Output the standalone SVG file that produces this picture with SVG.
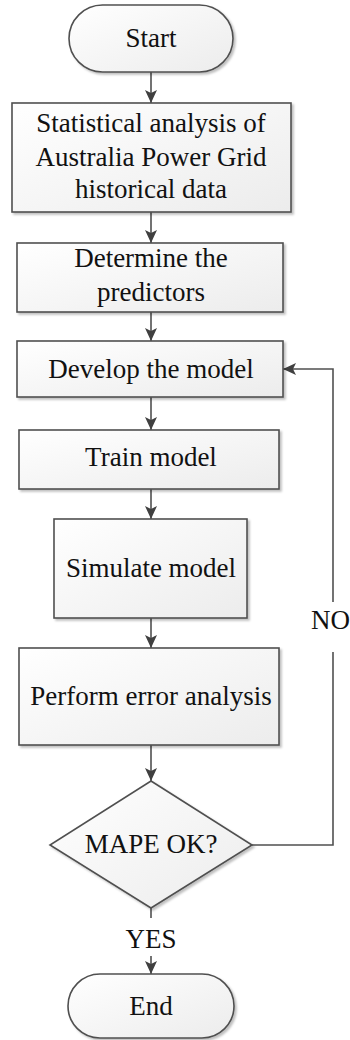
<svg xmlns="http://www.w3.org/2000/svg" width="350" height="1040" viewBox="0 0 350 1040">
<style>
.box{fill:url(#g);stroke:#505050;stroke-width:1.6;filter:url(#sh)}
.t{font-family:"Liberation Serif","Times New Roman",serif;font-size:27px;fill:#111111;text-anchor:middle}
.c{fill:none;stroke:#505050;stroke-width:1.6}
</style>
<defs>
<linearGradient id="g" x1="0" y1="0" x2="1" y2="1">
<stop offset="0" stop-color="#ffffff"/>
<stop offset="1" stop-color="#ececec"/>
</linearGradient>
<filter id="sh" x="-10%" y="-10%" width="130%" height="130%">
<feDropShadow dx="2" dy="2" stdDeviation="1.2" flood-color="#000" flood-opacity="0.25"/>
</filter>
<marker id="ah" markerUnits="userSpaceOnUse" markerWidth="14" markerHeight="14" refX="13" refY="7" orient="auto">
<path d="M0,1 L13,7 L0,13 L3,7 Z" fill="#404040"/>
</marker>
</defs>
<g id="connectors">
<line class="c" x1="151" y1="72" x2="151" y2="103" marker-end="url(#ah)"/>
<line class="c" x1="151" y1="212" x2="151" y2="243" marker-end="url(#ah)"/>
<line class="c" x1="151" y1="312" x2="151" y2="341" marker-end="url(#ah)"/>
<line class="c" x1="151" y1="397" x2="151" y2="430" marker-end="url(#ah)"/>
<line class="c" x1="151" y1="489" x2="151" y2="519" marker-end="url(#ah)"/>
<line class="c" x1="151" y1="618" x2="151" y2="648" marker-end="url(#ah)"/>
<line class="c" x1="151" y1="745" x2="151" y2="781" marker-end="url(#ah)"/>
<line class="c" x1="151" y1="908" x2="151" y2="918"/>
<line class="c" x1="151" y1="956" x2="151" y2="974" marker-end="url(#ah)"/>
<polyline class="c" points="252,845 333,845 333,652"/>
<polyline class="c" points="333,602 333,369 283,369" marker-end="url(#ah)"/>
<text class="t" x="151" y="948">YES</text>
<text class="t" x="311" y="629" style="text-anchor:start">NO</text>
</g>
<g id="start">
<rect class="box" x="69" y="5" width="164" height="67" rx="33.5"/>
<text class="t" x="151" y="47">Start</text>
</g>
<g id="stat">
<rect class="box" x="12" y="103" width="279" height="109"/>
<text class="t" x="151" y="132">Statistical analysis of</text>
<text class="t" x="151" y="166">Australia Power Grid</text>
<text class="t" x="151" y="198">historical data</text>
</g>
<g id="predictors">
<rect class="box" x="17" y="243" width="266" height="69"/>
<text class="t" x="151" y="267">Determine the</text>
<text class="t" x="151" y="301">predictors</text>
</g>
<g id="develop">
<rect class="box" x="17" y="341" width="266" height="56"/>
<text class="t" x="151" y="378">Develop the model</text>
</g>
<g id="train">
<rect class="box" x="19" y="430" width="260" height="59"/>
<text class="t" x="151" y="466">Train model</text>
</g>
<g id="simulate">
<rect class="box" x="54" y="519" width="193" height="99"/>
<text class="t" x="151" y="577">Simulate model</text>
</g>
<g id="error">
<rect class="box" x="19" y="648" width="260" height="97"/>
<text class="t" x="151" y="705">Perform error analysis</text>
</g>
<g id="mape">
<polygon class="box" points="151,781 252,845 151,908 50,845"/>
<text class="t" x="151" y="853">MAPE OK?</text>
</g>
<g id="end">
<rect class="box" x="68" y="974" width="166" height="64" rx="32"/>
<text class="t" x="151" y="1015">End</text>
</g>
</svg>
